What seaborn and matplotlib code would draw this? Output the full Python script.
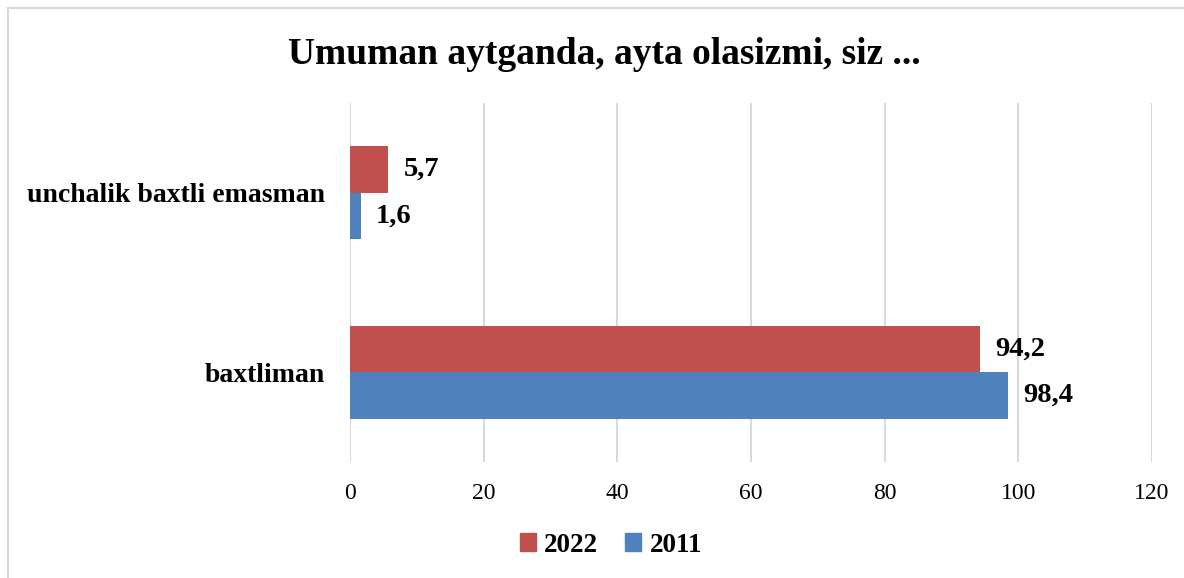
import matplotlib
matplotlib.use("Agg")
import matplotlib.pyplot as plt
import matplotlib.patches as mpatches
import seaborn as sns
import pandas as pd

categories = ["unchalik baxtli emasman", "baxtliman"]
years = ["2022", "2011"]
values_2022 = [5.7, 94.2]
values_2011 = [1.6, 98.4]
x_ticks = [0, 20, 40, 60, 80, 100, 120]
colors = {"2022": "#C0504D", "2011": "#4F81BD"}

df = pd.DataFrame({
    "category": categories * 2,
    "year": ["2022"] * len(categories) + ["2011"] * len(categories),
    "value": values_2022 + values_2011,
})

sns.set_theme(style="white")
plt.rcParams["font.family"] = ["Liberation Serif", "DejaVu Serif"]
plt.rcParams["text.color"] = "black"
plt.rcParams["xtick.color"] = "black"
plt.rcParams["ytick.color"] = "black"
plt.rcParams["axes.labelcolor"] = "black"

fig = plt.figure(figsize=(11.84, 5.78), dpi=100)
ax = fig.add_axes([350 / 1184, 1 - 462 / 578, (1152 - 350) / 1184, (462 - 103) / 578])

sns.barplot(data=df, y="category", x="value", hue="year", order=categories,
            hue_order=years, palette=colors, orient="h", width=0.52,
            saturation=1, ax=ax, legend=False, edgecolor="none")

ax.set_xlim(0, 120)
ax.set_ylim(1.5, -0.5)
ax.set_xticks(x_ticks)
ax.set_xticklabels([str(t) for t in x_ticks], fontsize=17, color="black")
ax.set_xlabel("")
ax.set_ylabel("")
for lab in ax.get_yticklabels():
    lab.set_fontweight("bold")
    lab.set_fontsize(20)
    lab.set_color("black")
ax.tick_params(axis="y", length=0, pad=18)
ax.tick_params(axis="x", length=0, pad=15)
ax.grid(axis="x", color="#D9D9D9", linewidth=1.5)
ax.set_axisbelow(True)
for s in ax.spines.values():
    s.set_visible(False)

for cont, yr in zip(ax.containers, years):
    vals = values_2022 if yr == "2022" else values_2011
    ax.bar_label(cont, labels=[f"{v:.1f}".replace(".", ",") for v in vals],
                 padding=11, fontsize=20.5, fontweight="bold", color="black")

fig.text(0.51, 1 - 55 / 578, "Umuman aytganda, ayta olasizmi, siz ...",
         ha="center", va="center", fontsize=27, fontweight="bold", color="black")

handles = [mpatches.Patch(color=colors[y], label=y) for y in years]
fig.legend(handles=handles, loc="center", bbox_to_anchor=(0.516, 1 - 545 / 578),
           ncol=2, frameon=False, handlelength=0.6, handleheight=0.6,
           handletextpad=0.3, columnspacing=1.0,
           prop={"weight": "bold", "size": 19.5})

border = mpatches.Rectangle((8 / 1184, -0.2), 1.2, 1.2 - 8 / 578,
                            transform=fig.transFigure, fill=False,
                            edgecolor="#D9D9D9", linewidth=1.5, clip_on=False)
fig.patches.append(border)

fig.savefig("out.png", dpi=100, facecolor="white")
